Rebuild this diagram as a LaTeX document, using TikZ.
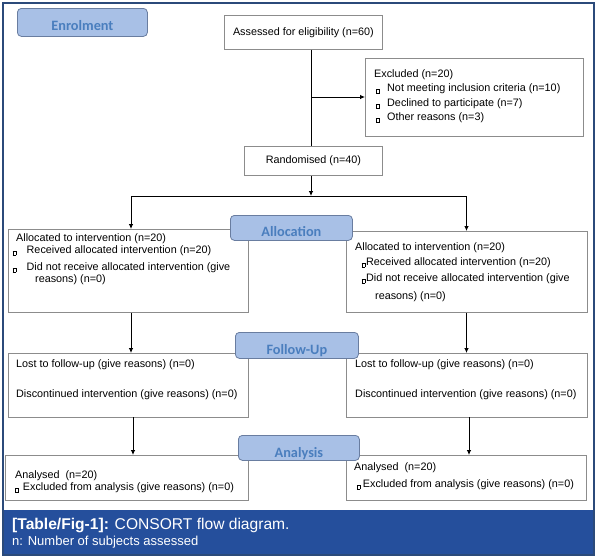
\documentclass[tikz,border=0pt]{standalone}
\usepackage{fontspec}
\setmainfont{Liberation Sans}
\newfontfamily\calib{Carlito}
\usetikzlibrary{arrows.meta,calc}
\definecolor{frameblue}{RGB}{43,74,122}
\definecolor{bandblue}{RGB}{37,79,156}
\definecolor{labfill}{RGB}{168,192,230}
\definecolor{labdraw}{RGB}{105,125,160}
\definecolor{labtext}{RGB}{74,126,190}
\definecolor{boxgray}{RGB}{140,140,140}
\newcommand{\bx}{\raisebox{-1.5pt}{\fboxsep=0pt\fboxrule=0.4pt\fbox{\rule{0pt}{3.6pt}\hspace{2.6pt}}}}
\begin{document}
\begin{tikzpicture}[x=1pt,y=-1pt,
  box/.style={draw=boxgray,line width=0.8pt,fill=white,anchor=north west,inner sep=0pt,font=\fontsize{10.8}{12}\selectfont},
  lab/.style={draw=labdraw,fill=labfill,rounded corners=4pt,line width=0.8pt,anchor=north west,inner xsep=0pt,inner ysep=0pt,font=\calib\bfseries\fontsize{14.3}{14.3}\selectfont,text=labtext},
  txt/.style={anchor=north west,inner sep=0pt,align=left,font=\fontsize{10.8}{12}\selectfont},
  captxt/.style={anchor=base west,inner sep=0pt,text=white},
  conn/.style={line width=0.8pt},
  arr/.style={conn,-{Latex[length=5pt,width=4.5pt]}}]

\useasboundingbox (0,0) rectangle (598,560);
\fill[white] (0,0) rectangle (598,560);
\fill[bandblue] (3,510) rectangle (594,555);
\draw[frameblue,line width=1.3pt] (3,3) rectangle (594,555);

% boxes
\node[box,minimum width=158pt,minimum height=34pt] (assess) at (224,15) {Assessed for eligibility (n=60)};
\node[box,minimum width=218pt,minimum height=78pt] (excl) at (365,58) {};
\node[box,minimum width=138pt,minimum height=29pt] (rand) at (244,146) {Randomised (n=40)};
\node[box,minimum width=240pt,minimum height=83pt] (alloc1) at (8,229) {};
\node[box,minimum width=241pt,minimum height=81pt] (alloc2) at (346,231) {};
\node[box,minimum width=240pt,minimum height=64pt] (fu1) at (8,353) {};
\node[box,minimum width=241pt,minimum height=64pt] (fu2) at (346,353) {};
\node[box,minimum width=243pt,minimum height=45pt] (an1) at (5,455) {};
\node[box,minimum width=240pt,minimum height=45pt] (an2) at (346,455) {};

% box texts
\node[txt] (exclt) at (374,69) {Excluded (n=20)\\[2.5pt]
\hspace*{2pt}\bx\hspace{7.6pt}Not meeting inclusion criteria (n=10)\\[2.5pt]
\hspace*{2pt}\bx\hspace{7.6pt}Declined to participate (n=7)\\[2.5pt]
\hspace*{2pt}\bx\hspace{7.6pt}Other reasons (n=3)};

\node[txt] (alloc1t) at (12.5,233.7) {\hspace*{3.5pt}Allocated to intervention (n=20)\\
\bx\hspace{10.6pt}Received allocated intervention (n=20)\\[5pt]
\bx\hspace{10.6pt}Did not receive allocated intervention (give\\
\hspace*{22.5pt}reasons) (n=0)};

\node[txt] (alloc2t) at (355,242.7) {Allocated to intervention (n=20)\\[2.3pt]
\hspace*{6.5pt}\bx\hspace{1pt}Received allocated intervention (n=20)\\[4.7pt]
\hspace*{6.5pt}\bx\hspace{1pt}Did not receive allocated intervention (give\\[5.3pt]
\hspace*{20pt}reasons) (n=0)};

\node[txt] (fu1t) at (16,359) {Lost to follow-up (give reasons) (n=0)\\[18pt]
Discontinued intervention (give reasons) (n=0)};
\node[txt] (fu2t) at (355,359) {Lost to follow-up (give reasons) (n=0)\\[18pt]
Discontinued intervention (give reasons) (n=0)};

\node[txt] (an1t) at (15,470) {Analysed~~(n=20)\\
\bx\hspace{4.3pt}Excluded from analysis (give reasons) (n=0)};
\node[txt] (an2t) at (354,462.7) {Analysed~~(n=20)\\[5pt]
\hspace*{2.7pt}\bx\hspace{2.6pt}Excluded from analysis (give reasons) (n=0)};

% connectors
\coordinate (jx) at (311,97);
\coordinate (split) at (311,196);
\coordinate (lb) at (131,196);
\coordinate (rb) at (466.5,196);
\coordinate (lc) at (133,417);
\coordinate (rc) at (469,417);
\draw[conn] (assess.south -| jx) -- (rand.north -| jx);
\draw[arr] (jx) -- (excl.west |- jx);
\draw[arr] (rand.south -| split) -- (split);
\draw[conn] (lb) -- (rb);
\draw[arr] (lb) -- (alloc1.north -| lb);
\draw[arr] (rb) -- (alloc2.north -| rb);
\draw[arr] (alloc1.south -| lb) -- (fu1.north -| lb);
\draw[arr] (alloc2.south -| rb) -- (fu2.north -| rb);
\draw[arr] (lc) -- (an1.north -| lc);
\draw[arr] (rc) -- (an2.north -| rc);

% stage labels
\node[lab,minimum width=130pt,minimum height=28pt,text height=22pt,text depth=6pt] (enrol) at (17,8) {Enrolment};
\node[lab,minimum width=122pt,minimum height=25pt,text height=21pt,text depth=4pt] (alloclab) at (230,215) {Allocation};
\node[lab,minimum width=123pt,minimum height=26pt,text height=22.3pt,text depth=3.7pt] (fulab) at (235,332) {Follow-Up};
\node[lab,minimum width=121pt,minimum height=25pt,text height=21.7pt,text depth=3.3pt] (anlab) at (238,435) {Analysis};

% caption
\node[captxt,font=\fontsize{15.6}{15.6}\selectfont] (cap1) at (12,529) {\textbf{[Table/Fig-1]:} CONSORT flow diagram.};
\node[captxt,font=\fontsize{13}{13}\selectfont] (cap2) at (12,545.5) {n: Number of subjects assessed};
\end{tikzpicture}
\end{document}
